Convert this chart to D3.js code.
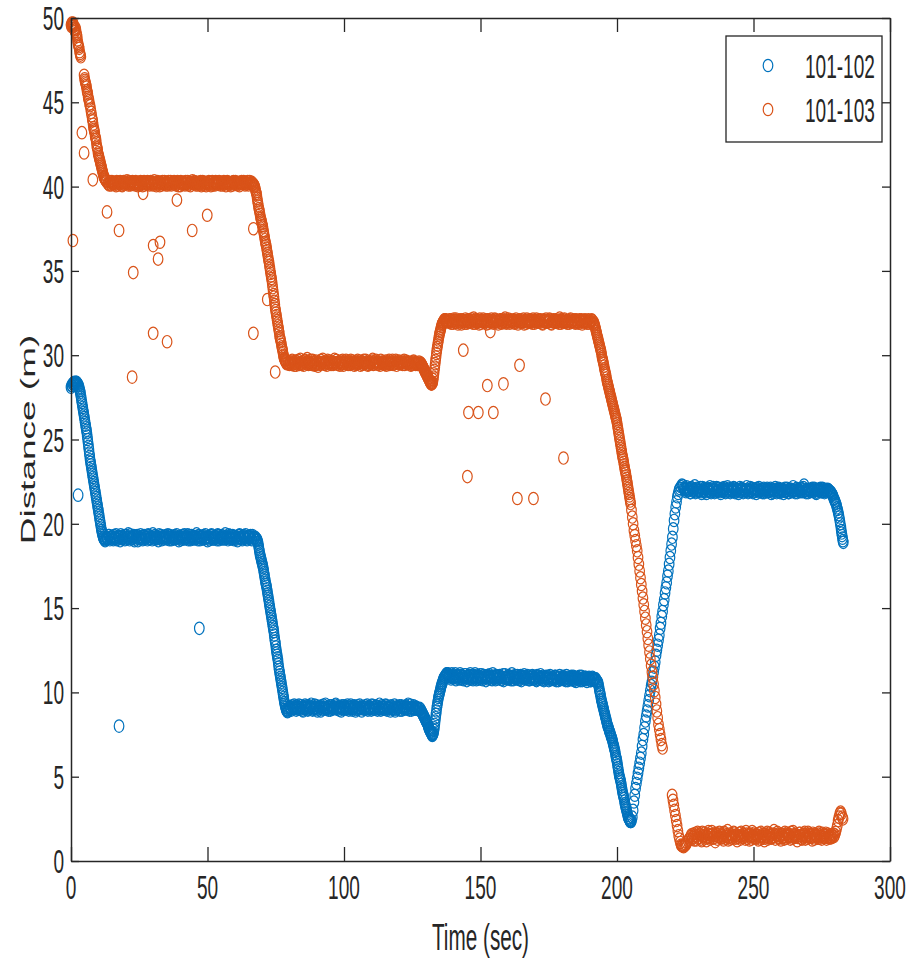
<!DOCTYPE html>
<html>
<head>
<meta charset="utf-8">
<script src="https://cdn.jsdelivr.net/npm/d3@7"></script>
<style>
  html, body { margin: 0; padding: 0; background: #fff; }
  svg { display: block; }
  text { font-family: "Liberation Sans", Arial, sans-serif; fill: #262626; }
</style>
</head>
<body>
<svg id="chart" width="908" height="962"></svg>
<script>
// Axis ticks
const xTicks = [0, 50, 100, 150, 200, 250, 300];
const yTicks = [0, 5, 10, 15, 20, 25, 30, 35, 40, 45, 50];
const seriesNames = ["101-102", "101-103"];
const seriesColors = ["#0072BD", "#D95319"];

// Node pair 101-102: [time (s), distance (m)]
const dist102 = [
  [0,28.1],[0.4,28.2],[0.8,28.3],[1.2,28.4],[1.6,28.3],[2.0,28.4],[2.4,28.3],[2.8,28.2],[3.1,28.0],[3.4,27.8],[3.7,27.5],[4.0,27.2],[4.3,26.9],[4.6,26.6],[4.9,26.3],[5.2,26.0],[5.5,25.7],[5.8,25.4],[6.1,25.0],[6.4,24.6],[6.7,24.2],[7.0,23.8],[7.3,23.5],[7.6,23.2],[7.9,22.9],[8.2,22.6],[8.5,22.3],[8.8,22.0],[9.1,21.7],[9.4,21.4],[9.7,21.1],[10.0,20.8],[10.3,20.5],[10.6,20.2],[10.9,19.9],[11.2,19.6],[11.5,19.4],[11.8,19.2],[12.1,19.1],[12.5,19.0],
  [13,19.2],[13.5,19.1],[14,19.3],[14.5,19.15],[15,19.25],[15.5,19.05],[16,19.2],[16.5,19.35],[17,19.1],[17.5,19.2],[18,19.0],[18.5,19.25],[19,19.15],[19.5,19.3],[20,19.1],[20.5,19.2],[21,19.4],[21.5,19.05],[22,19.2],[22.5,19.15],[23,19.3],[23.5,19.1],[24,19.25],[24.5,19.0],[25,19.2],[25.5,19.35],[26,19.15],[26.5,19.1],[27,19.25],[27.5,19.2],[28,19.05],[28.5,19.3],[29,19.15],[29.5,19.2],[30,19.4],[30.5,19.1],[31,19.2],[31.5,19.25],[32,19.0],[32.5,19.15],[33,19.3],[33.5,19.2],[34,19.1],[34.5,19.25],[35,19.15],[35.5,19.35],[36,19.05],[36.5,19.2],[37,19.25],[37.5,19.1],[38,19.3],[38.5,19.15],[39,19.2],[39.5,19.0],[40,19.25],[40.5,19.2],[41,19.1],[41.5,19.35],[42,19.15],[42.5,19.2],[43,19.05],[43.5,19.3],[44,19.2],[44.5,19.1],[45,19.25],[45.5,19.15],[46,19.4],[46.5,19.05],[47,19.2],[47.5,19.25],[48,19.1],[48.5,19.3],[49,19.15],[49.5,19.2],[50,19.0],[50.5,19.25],[51,19.15],[51.5,19.35],[52,19.1],[52.5,19.2],[53,19.25],[53.5,19.05],[54,19.3],[54.5,19.15],[55,19.2],[55.5,19.1],[56,19.25],[56.5,19.4],[57,19.15],[57.5,19.05],[58,19.2],[58.5,19.3],[59,19.1],[59.5,19.25],[60,19.15],[60.5,19.2],[61,19.0],[61.5,19.3],[62,19.2],[62.5,19.1],[63,19.25],[63.5,19.15],[64,19.35],[64.5,19.05],[65,19.2],[65.5,19.25],[66,19.1],[66.5,19.3],[67,19.15],[67.5,19.2],
  [68.0,19.1],[68.3,19.0],[68.6,18.8],[68.9,18.5],[69.2,18.2],[69.5,18.0],[69.8,17.8],[70.1,17.6],[70.4,17.4],[70.7,17.1],[71.0,16.8],[71.3,16.5],[71.6,16.3],[71.9,16.0],[72.2,15.7],[72.5,15.4],[72.8,15.1],[73.1,14.8],[73.4,14.5],[73.7,14.2],[74.0,13.9],[74.3,13.6],[74.6,13.2],[74.9,12.9],[75.2,12.5],[75.5,12.2],[75.8,11.9],[76.1,11.5],[76.4,11.2],[76.7,10.9],[77.0,10.6],[77.3,10.3],[77.6,10.0],[77.9,9.7],[78.2,9.4],[78.5,9.2],[78.8,9.0],[79.1,8.9],[79.5,8.9],
  [80,9.1],[80.5,9.0],[81,9.2],[81.5,9.05],[82,9.15],[82.5,8.95],[83,9.1],[83.5,9.25],[84,9.0],[84.5,9.1],[85,8.9],[85.5,9.15],[86,9.05],[86.5,9.2],[87,9.0],[87.5,9.1],[88,9.3],[88.5,8.95],[89,9.1],[89.5,9.05],[90,9.2],[90.5,9.0],[91,9.15],[91.5,8.9],[92,9.1],[92.5,9.25],[93,9.05],[93.5,9.0],[94,9.15],[94.5,9.1],[95,8.95],[95.5,9.2],[96,9.05],[96.5,9.1],[97,9.3],[97.5,9.0],[98,9.1],[98.5,9.15],[99,8.9],[99.5,9.05],[100,9.2],[100.5,9.1],[101,9.0],[101.5,9.15],[102,9.05],[102.5,9.25],[103,8.95],[103.5,9.1],[104,9.15],[104.5,9.0],[105,9.2],[105.5,9.05],[106,9.1],[106.5,8.9],[107,9.15],[107.5,9.1],[108,9.0],[108.5,9.25],[109,9.05],[109.5,9.1],[110,8.95],[110.5,9.2],[111,9.1],[111.5,9.0],[112,9.15],[112.5,9.05],[113,9.3],[113.5,8.95],[114,9.1],[114.5,9.15],[115,9.0],[115.5,9.2],[116,9.05],[116.5,9.1],[117,8.9],[117.5,9.15],[118,9.05],[118.5,9.25],[119,9.0],[119.5,9.1],[120,9.15],[120.5,8.95],[121,9.2],[121.5,9.1],[122,9.0],[122.5,9.15],[123,9.05],[123.5,9.3],[124,8.95],[124.5,9.1],[125,9.05],[125.5,9.2],[126,9.0],[126.5,9.1],[127,9.05],[127.5,8.95],[128,9.0],
  [128.3,8.9],[128.6,8.8],[128.9,8.7],[129.2,8.6],[129.5,8.5],[129.8,8.4],[130.1,8.3],[130.4,8.2],[130.7,8.1],[131.0,7.9],[131.3,7.8],[131.6,7.7],[131.9,7.6],[132.2,7.5],[132.5,7.5],[132.8,7.6],[133.1,7.9],[133.4,8.3],[133.7,8.7],[134.0,9.1],[134.3,9.4],[134.6,9.7],[134.9,9.9],[135.2,10.1],[135.5,10.3],[135.8,10.5],[136.1,10.6],[136.4,10.8],[136.8,10.9],[137.2,11.0],[137.6,11.1],[138.0,11.1],
  [138.5,11.05],[139,10.9],[139.5,11.1],[140,10.85],[140.5,10.95],[141,10.75],[141.5,11.0],[142,10.9],[142.5,11.1],[143,10.8],[143.5,10.95],[144,10.85],[144.5,11.05],[145,10.7],[145.5,10.9],[146,11.0],[146.5,10.8],[147,10.95],[147.5,10.85],[148,11.1],[148.5,10.75],[149,10.9],[149.5,10.95],[150,10.8],[150.5,11.05],[151,10.85],[151.5,10.9],[152,10.7],[152.5,11.0],[153,10.85],[153.5,10.95],[154,10.8],[154.5,11.1],[155,10.9],[155.5,10.75],[156,10.95],[156.5,10.85],[157,11.0],[157.5,10.8],[158,10.9],[158.5,10.7],[159,11.05],[159.5,10.85],[160,10.95],[160.5,10.8],[161,10.9],[161.5,11.1],[162,10.75],[162.5,10.9],[163,10.85],[163.5,11.0],[164,10.8],[164.5,10.95],[165,10.7],[165.5,10.9],[166,11.05],[166.5,10.85],[167,10.8],[167.5,10.95],[168,10.75],[168.5,10.9],[169,11.0],[169.5,10.8],[170,10.85],[170.5,10.7],[171,10.95],[171.5,10.85],[172,11.05],[172.5,10.75],[173,10.9],[173.5,10.8],[174,10.95],[174.5,10.85],[175,10.7],[175.5,11.0],[176,10.8],[176.5,10.9],[177,10.75],[177.5,10.95],[178,10.85],[178.5,10.7],[179,11.0],[179.5,10.8],[180,10.9],[180.5,10.75],[181,10.85],[181.5,11.0],[182,10.7],[182.5,10.85],[183,10.9],[183.5,10.75],[184,10.95],[184.5,10.8],[185,10.65],[185.5,10.9],[186,10.85],[186.5,10.7],[187,10.95],[187.5,10.8],[188,10.75],[188.5,10.9],[189,10.65],[189.5,10.85],[190,10.8],[190.5,10.7],[191,10.9],[191.5,10.75],[192,10.8],[192.5,10.7],
  [193.0,10.6],[193.3,10.4],[193.6,10.1],[193.9,9.9],[194.2,9.6],[194.5,9.4],[194.8,9.2],[195.1,9.0],[195.4,8.8],[195.7,8.6],[196.0,8.4],[196.3,8.2],[196.6,8.0],[196.9,7.9],[197.2,7.7],[197.5,7.6],[197.8,7.4],[198.1,7.3],[198.4,7.1],[198.7,6.9],[199.0,6.7],[199.3,6.5],[199.6,6.2],[199.9,6.0],[200.2,5.7],[200.5,5.4],[200.8,5.1],[201.1,4.9],[201.4,4.7],[201.7,4.4],[202.0,4.1],[202.3,3.9],[202.6,3.7],[202.9,3.4],[203.2,3.2],[203.5,3.0],[203.8,2.8],[204.1,2.6],[204.4,2.5],[204.7,2.4],[205.0,2.35],
  [205.3,2.4],[205.6,2.6],[205.9,3.0],[206.2,3.5],[206.5,3.9],[206.8,4.3],[207.1,4.6],[207.4,4.9],[207.7,5.2],[208.0,5.5],[208.3,5.8],[208.6,6.1],[208.9,6.4],[209.2,6.8],[209.5,7.2],[209.8,7.5],[210.1,7.9],[210.4,8.3],[210.7,8.6],[211.0,8.9],[211.3,9.2],[211.6,9.5],[211.9,9.8],[212.2,10.1],[212.5,10.4],[212.8,10.6],[213.1,10.9],[213.4,11.2],[213.7,11.5],[214.0,11.8],[214.3,12.2],[214.6,12.5],[214.9,12.8],[215.2,13.1],[215.5,13.4],[215.8,13.8],[216.1,14.1],[216.4,14.5],[216.7,14.8],[217.0,15.2],[217.3,15.5],[217.6,15.9],[217.9,16.2],[218.2,16.5],[218.5,16.9],[218.8,17.2],[219.1,17.6],[219.4,18.0],[219.7,18.4],[220.0,18.8],[220.3,19.2],[220.6,19.7],[220.9,20.2],[221.2,20.6],[221.5,21.0],[221.8,21.3],[222.1,21.6],[222.4,21.8],[222.7,22.0],[223.0,22.1],[223.4,22.2],[223.8,22.3],[224.2,22.25],
  [224.5,22.1],[225,22.0],[225.5,22.2],[226,21.95],[226.5,22.05],[227,21.85],[227.5,22.1],[228,22.0],[228.5,22.25],[229,21.9],[229.5,22.05],[230,21.95],[230.5,22.15],[231,21.8],[231.5,22.0],[232,22.1],[232.5,21.9],[233,22.05],[233.5,21.95],[234,22.2],[234.5,21.85],[235,22.0],[235.5,22.05],[236,21.9],[236.5,22.15],[237,21.95],[237.5,22.0],[238,21.8],[238.5,22.1],[239,21.95],[239.5,22.05],[240,21.9],[240.5,22.2],[241,22.0],[241.5,21.85],[242,22.05],[242.5,21.95],[243,22.1],[243.5,21.9],[244,22.0],[244.5,21.8],[245,22.15],[245.5,21.95],[246,22.05],[246.5,21.9],[247,22.0],[247.5,22.2],[248,21.85],[248.5,22.0],[249,21.95],[249.5,22.1],[250,21.9],[250.5,22.05],[251,21.8],[251.5,22.0],[252,22.15],[252.5,21.95],[253,21.9],[253.5,22.05],[254,21.85],[254.5,22.0],[255,22.1],[255.5,21.9],[256,21.95],[256.5,21.8],[257,22.05],[257.5,21.95],[258,22.15],[258.5,21.85],[259,22.0],[259.5,21.9],[260,22.05],[260.5,21.95],[261,21.8],[261.5,22.1],[262,21.95],[262.5,22.0],[263,21.85],[263.5,22.05],[264,21.9],[264.5,22.2],[265,21.95],[265.5,22.0],[266,21.85],[266.5,22.05],[267,21.95],[267.5,22.1],[268,21.9],[268.5,22.3],[269,21.95],[269.5,22.0],[270,21.85],[270.5,22.05],[271,21.95],[271.5,22.1],[272,21.9],[272.5,22.0],[273,21.8],[273.5,22.05],[274,21.95],[274.5,22.1],[275,21.9],[275.5,22.0],[276,21.85],[276.5,22.05],[277,21.95],[277.5,22.0],[278,21.9],
  [278.4,21.85],[278.8,21.75],[279.2,21.6],[279.6,21.45],[280.0,21.3],[280.4,21.1],[280.8,20.85],[281.2,20.55],[281.6,20.2],[282.0,19.8],[282.3,19.45],[282.6,19.15],[282.9,18.9]
];
// Intermediate samples of the 101-102 track
const dist102Extra = [
  [0.2,28.2],[0.6,28.3],[1.0,28.35],[1.4,28.3],[1.8,28.4],[2.2,28.35],[2.6,28.25],[2.95,28.1],[3.25,27.9],[3.55,27.65],[3.85,27.35],[4.15,27.05],[4.45,26.75],[4.75,26.45],[5.05,26.15],[5.35,25.85],[5.65,25.55],[5.95,25.2],[6.25,24.8],[6.55,24.4],[6.85,24.0],[7.15,23.65],[7.45,23.35],[7.75,23.05],[8.05,22.75],[8.35,22.45],[8.65,22.15],[8.95,21.85],[9.25,21.55],[9.55,21.25],[9.85,20.95],[10.15,20.65],[10.45,20.35],[10.75,20.05],[11.05,19.75],[11.35,19.5],[11.65,19.3],[11.95,19.15],[12.3,19.05],[12.75,19.1],
  [13.25,19.15],[13.75,19.3],[14.25,19.05],[14.75,19.2],[15.25,19.1],[15.75,19.3],[16.25,19.15],[16.75,19.05],[17.25,19.25],[17.75,19.15],[18.25,19.35],[18.75,19.1],[19.25,19.2],[19.75,19.05],[20.25,19.3],[20.75,19.15],[21.25,19.2],[21.75,19.35],[22.25,19.1],[22.75,19.25],[23.25,19.0],[23.75,19.2],[24.25,19.3],[24.75,19.15],[25.25,19.1],[25.75,19.25],[26.25,19.05],[26.75,19.3],[27.25,19.15],[27.75,19.2],[28.25,19.35],[28.75,19.1],[29.25,19.25],[29.75,19.05],[30.25,19.2],[30.75,19.3],[31.25,19.1],[31.75,19.15],[32.25,19.35],[32.75,19.2],[33.25,19.05],[33.75,19.25],[34.25,19.15],[34.75,19.3],[35.25,19.1],[35.75,19.2],[36.25,19.3],[36.75,19.05],[37.25,19.15],[37.75,19.25],[38.25,19.1],[38.75,19.35],[39.25,19.2],[39.75,19.15],[40.25,19.05],[40.75,19.3],[41.25,19.2],[41.75,19.1],[42.25,19.25],[42.75,19.35],[43.25,19.15],[43.75,19.05],[44.25,19.3],[44.75,19.2],[45.25,19.1],[45.75,19.25],[46.25,19.15],[46.75,19.3],[47.25,19.05],[47.75,19.2],[48.25,19.25],[48.75,19.1],[49.25,19.35],[49.75,19.15],[50.25,19.2],[50.75,19.05],[51.25,19.3],[51.75,19.2],[52.25,19.1],[52.75,19.25],[53.25,19.15],[53.75,19.35],[54.25,19.05],[54.75,19.2],[55.25,19.3],[55.75,19.15],[56.25,19.1],[56.75,19.25],[57.25,19.2],[57.75,19.35],[58.25,19.1],[58.75,19.15],[59.25,19.3],[59.75,19.05],[60.25,19.25],[60.75,19.1],[61.25,19.2],[61.75,19.35],[62.25,19.15],[62.75,19.05],[63.25,19.3],[63.75,19.2],[64.25,19.1],[64.75,19.25],[65.25,19.15],[65.75,19.3],[66.25,19.05],[66.75,19.2],[67.25,19.15],[67.75,19.1],
  [68.15,19.05],[68.45,18.9],[68.75,18.65],[69.05,18.35],[69.35,18.1],[69.65,17.9],[69.95,17.7],[70.25,17.5],[70.55,17.25],[70.85,16.95],[71.15,16.65],[71.45,16.4],[71.75,16.15],[72.05,15.85],[72.35,15.55],[72.65,15.25],[72.95,14.95],[73.25,14.65],[73.55,14.35],[73.85,14.05],[74.15,13.75],[74.45,13.4],[74.75,13.05],[75.05,12.7],[75.35,12.35],[75.65,12.05],[75.95,11.7],[76.25,11.35],[76.55,11.05],[76.85,10.75],[77.15,10.45],[77.45,10.15],[77.75,9.85],[78.05,9.55],[78.35,9.3],[78.65,9.1],[78.95,8.95],[79.3,8.85],[79.75,9.0],
  [80.25,9.15],[80.75,8.95],[81.25,9.1],[81.75,9.25],[82.25,9.05],[82.75,9.2],[83.25,9.0],[83.75,9.1],[84.25,9.2],[84.75,8.95],[85.25,9.05],[85.75,9.25],[86.25,9.1],[86.75,8.95],[87.25,9.2],[87.75,9.05],[88.25,9.15],[88.75,9.0],[89.25,9.25],[89.75,9.1],[90.25,8.9],[90.75,9.15],[91.25,9.05],[91.75,9.2],[92.25,9.0],[92.75,9.1],[93.25,9.3],[93.75,9.05],[94.25,8.95],[94.75,9.2],[95.25,9.1],[95.75,9.0],[96.25,9.15],[96.75,9.25],[97.25,9.05],[97.75,9.15],[98.25,8.95],[98.75,9.1],[99.25,9.2],[99.75,9.0],[100.25,9.15],[100.75,9.05],[101.25,9.25],[101.75,8.95],[102.25,9.1],[102.75,9.15],[103.25,9.05],[103.75,9.2],[104.25,8.9],[104.75,9.1],[105.25,9.0],[105.75,9.25],[106.25,9.05],[106.75,9.15],[107.25,9.0],[107.75,9.2],[108.25,9.1],[108.75,8.95],[109.25,9.15],[109.75,9.05],[110.25,9.25],[110.75,9.0],[111.25,9.1],[111.75,9.2],[112.25,8.95],[112.75,9.15],[113.25,9.05],[113.75,9.2],[114.25,9.0],[114.75,9.1],[115.25,9.25],[115.75,8.95],[116.25,9.15],[116.75,9.05],[117.25,9.2],[117.75,9.0],[118.25,9.1],[118.75,8.9],[119.25,9.15],[119.75,9.05],[120.25,9.2],[120.75,9.1],[121.25,8.95],[121.75,9.15],[122.25,9.05],[122.75,9.2],[123.25,9.0],[123.75,9.1],[124.25,9.25],[124.75,8.95],[125.25,9.1],[125.75,9.0],[126.25,9.15],[126.75,9.05],[127.25,9.0],[127.75,9.05],
  [128.45,8.85],[128.75,8.75],[129.05,8.65],[129.35,8.55],[129.65,8.45],[129.95,8.35],[130.25,8.25],[130.55,8.15],[130.85,8.0],[131.15,7.85],[131.45,7.75],[131.75,7.65],[132.05,7.55],[132.35,7.45],[132.65,7.55],[132.95,7.75],[133.25,8.1],[133.55,8.5],[133.85,8.9],[134.15,9.25],[134.45,9.55],[134.75,9.8],[135.05,10.0],[135.35,10.2],[135.65,10.4],[135.95,10.55],[136.25,10.7],[136.6,10.85],[137.0,10.95],[137.4,11.05],[137.8,11.1],[138.25,11.0],
  [138.75,10.95],[139.25,10.8],[139.75,11.0],[140.25,10.9],[140.75,11.1],[141.25,10.85],[141.75,10.95],[142.25,10.8],[142.75,11.0],[143.25,10.9],[143.75,10.75],[144.25,11.05],[144.75,10.85],[145.25,10.95],[145.75,10.8],[146.25,11.1],[146.75,10.9],[147.25,10.75],[147.75,11.0],[148.25,10.85],[148.75,10.95],[149.25,10.8],[149.75,11.05],[150.25,10.9],[150.75,10.75],[151.25,11.0],[151.75,10.85],[152.25,10.95],[152.75,10.8],[153.25,11.05],[153.75,10.9],[154.25,10.75],[154.75,10.95],[155.25,10.85],[155.75,11.0],[156.25,10.8],[156.75,10.95],[157.25,10.9],[157.75,10.75],[158.25,11.05],[158.75,10.85],[159.25,10.9],[159.75,10.8],[160.25,11.0],[160.75,10.85],[161.25,10.75],[161.75,10.95],[162.25,10.85],[162.75,11.0],[163.25,10.8],[163.75,10.9],[164.25,10.75],[164.75,11.0],[165.25,10.85],[165.75,10.95],[166.25,10.8],[166.75,10.9],[167.25,11.0],[167.75,10.75],[168.25,10.85],[168.75,10.95],[169.25,10.8],[169.75,10.9],[170.25,10.75],[170.75,11.0],[171.25,10.8],[171.75,10.9],[172.25,10.85],[172.75,10.95],[173.25,10.7],[173.75,10.9],[174.25,10.8],[174.75,10.95],[175.25,10.85],[175.75,10.75],[176.25,10.9],[176.75,10.8],[177.25,10.95],[177.75,10.7],[178.25,10.85],[178.75,10.9],[179.25,10.75],[179.75,10.85],[180.25,10.95],[180.75,10.8],[181.25,10.7],[181.75,10.9],[182.25,10.8],[182.75,10.75],[183.25,10.95],[183.75,10.85],[184.25,10.7],[184.75,10.9],[185.25,10.8],[185.75,10.75],[186.25,10.95],[186.75,10.8],[187.25,10.7],[187.75,10.85],[188.25,10.9],[188.75,10.75],[189.25,10.8],[189.75,10.9],[190.25,10.7],[190.75,10.85],[191.25,10.8],[191.75,10.7],[192.25,10.8],[192.75,10.65],
  [193.15,10.5],[193.45,10.25],[193.75,10.0],[194.05,9.75],[194.35,9.5],[194.65,9.3],[194.95,9.1],[195.25,8.9],[195.55,8.7],[195.85,8.5],[196.15,8.3],[196.45,8.1],[196.75,7.95],[197.05,7.8],[197.35,7.65],[197.65,7.5],[197.95,7.35],[198.25,7.2],[198.55,7.0],[198.85,6.8],[199.15,6.6],[199.45,6.35],[199.75,6.1],[200.05,5.85],[200.35,5.55],[200.65,5.25],[200.95,5.0],[201.25,4.8],[201.55,4.55],[201.85,4.25],[202.15,4.0],[202.45,3.8],[202.75,3.55],[203.05,3.3],[203.35,3.1],[203.65,2.9],[203.95,2.7],[204.25,2.55],[204.55,2.45],[204.85,2.35],[205.15,2.35],
  [224.75,22.05],[225.25,21.9],[225.75,22.1],[226.25,22.0],[226.75,21.85],[227.25,22.15],[227.75,21.95],[228.25,22.05],[228.75,21.85],[229.25,22.1],[229.75,21.95],[230.25,22.0],[230.75,21.9],[231.25,22.15],[231.75,21.95],[232.25,22.05],[232.75,21.8],[233.25,22.1],[233.75,22.0],[234.25,21.9],[234.75,22.05],[235.25,22.15],[235.75,21.85],[236.25,22.0],[236.75,21.95],[237.25,22.1],[237.75,21.9],[238.25,22.05],[238.75,21.95],[239.25,22.15],[239.75,21.85],[240.25,22.0],[240.75,22.1],[241.25,21.9],[241.75,22.05],[242.25,21.95],[242.75,22.15],[243.25,21.85],[243.75,22.05],[244.25,22.0],[244.75,21.9],[245.25,22.05],[245.75,22.1],[246.25,21.85],[246.75,22.0],[247.25,21.95],[247.75,22.05],[248.25,21.9],[248.75,22.15],[249.25,22.0],[249.75,21.85],[250.25,22.05],[250.75,21.95],[251.25,22.1],[251.75,21.9],[252.25,22.0],[252.75,22.05],[253.25,21.85],[253.75,22.1],[254.25,21.95],[254.75,22.0],[255.25,21.9],[255.75,22.05],[256.25,22.1],[256.75,21.95],[257.25,21.85],[257.75,22.0],[258.25,22.05],[258.75,21.95],[259.25,22.1],[259.75,21.85],[260.25,22.0],[260.75,22.05],[261.25,21.95],[261.75,21.9],[262.25,22.1],[262.75,21.85],[263.25,22.0],[263.75,22.05],[264.25,21.95],[264.75,22.0],[265.25,21.85],[265.75,22.1],[266.25,21.95],[266.75,22.0],[267.25,21.9],[267.75,22.05],[268.25,22.15],[268.75,21.95],[269.25,21.85],[269.75,22.05],[270.25,22.0],[270.75,21.9],[271.25,22.05],[271.75,21.95],[272.25,22.1],[272.75,21.85],[273.25,22.0],[273.75,21.95],[274.25,22.05],[274.75,21.9],[275.25,22.1],[275.75,21.95],[276.25,22.0],[276.75,21.9],[277.25,22.05],[277.75,21.95],
  [278.2,21.9],[278.6,21.8],[279.0,21.7],[279.4,21.5],[279.8,21.35],[280.2,21.2],[280.6,20.95],[281.0,20.7],[281.4,20.4],[281.8,20.0],[282.15,19.6],[282.45,19.3],[282.75,19.0]
];
// Isolated 101-102 readings away from the track
const stray102 = [[2.6,21.7],[17.6,8.0],[47.0,13.8]];

// Node pair 101-103: [time (s), distance (m)]
const dist103 = [
  [0,49.6],[0.3,49.7],[0.6,49.5],[0.9,49.6],[1.2,49.4],[1.5,49.2],[1.8,49.3],[2.1,49.0],[2.4,48.7],[2.7,48.4],[3.0,48.2],[3.3,47.9],[3.6,47.7],[4.8,46.6],[5.1,46.3],[5.4,46.1],[5.7,45.9],[6.0,45.6],[6.3,45.3],[6.6,45.1],[7.0,44.8],[7.4,44.4],[7.8,44.0],[8.1,43.7],[8.4,43.4],[8.7,43.2],[9.0,42.9],[9.3,42.6],[9.6,42.3],[9.9,42.0],[10.2,41.8],[10.5,41.6],[10.8,41.4],[11.1,41.2],[11.4,41.0],[11.7,40.8],[12.0,40.6],[12.3,40.5],[12.6,40.4],[13.0,40.3],
  [13.5,40.2],[14,40.1],[14.5,40.25],[15,40.3],[15.5,40.15],[16,40.2],[16.5,40.05],[17,40.25],[17.5,40.2],[18,40.3],[18.5,40.1],[19,40.15],[19.5,40.25],[20,40.2],[20.5,40.35],[21,40.1],[21.5,40.2],[22,40.15],[22.5,40.3],[23,40.25],[23.5,40.1],[24,40.2],[24.5,40.05],[25,40.15],[25.5,40.3],[26,40.2],[26.5,40.25],[27,40.1],[27.5,40.2],[28,40.3],[28.5,40.15],[29,40.25],[29.5,40.2],[30,40.1],[30.5,40.35],[31,40.2],[31.5,40.15],[32,40.25],[32.5,40.05],[33,40.2],[33.5,40.3],[34,40.15],[34.5,40.2],[35,40.25],[35.5,40.1],[36,40.2],[36.5,40.3],[37,40.2],[37.5,40.15],[38,40.25],[38.5,40.1],[39,40.3],[39.5,40.2],[40,40.05],[40.5,40.25],[41,40.2],[41.5,40.15],[42,40.3],[42.5,40.2],[43,40.1],[43.5,40.25],[44,40.2],[44.5,40.35],[45,40.15],[45.5,40.2],[46,40.25],[46.5,40.1],[47,40.2],[47.5,40.3],[48,40.15],[48.5,40.25],[49,40.2],[49.5,40.05],[50,40.2],[50.5,40.3],[51,40.15],[51.5,40.25],[52,40.1],[52.5,40.2],[53,40.3],[53.5,40.2],[54,40.15],[54.5,40.25],[55,40.2],[55.5,40.1],[56,40.3],[56.5,40.2],[57,40.25],[57.5,40.15],[58,40.2],[58.5,40.05],[59,40.25],[59.5,40.3],[60,40.2],[60.5,40.15],[61,40.1],[61.5,40.25],[62,40.2],[62.5,40.3],[63,40.15],[63.5,40.2],[64,40.25],[64.5,40.2],[65,40.1],[65.5,40.3],[66,40.2],[66.5,40.15],
  [67.0,40.1],[67.3,40.0],[67.6,39.8],[67.9,39.6],[68.2,39.3],[68.5,39.0],[68.8,38.7],[69.1,38.5],[69.4,38.2],[69.7,38.0],[70.0,37.8],[70.3,37.6],[70.6,37.3],[70.9,37.0],[71.2,36.7],[71.5,36.5],[71.8,36.2],[72.1,35.9],[72.4,35.6],[72.7,35.3],[73.0,35.0],[73.3,34.7],[73.6,34.4],[73.9,34.0],[74.2,33.6],[74.5,33.2],[74.8,32.8],[75.1,32.5],[75.4,32.2],[75.7,31.9],[76.0,31.6],[76.3,31.3],[76.6,31.0],[76.9,30.8],[77.2,30.5],[77.5,30.3],[77.8,30.0],[78.1,29.8],[78.4,29.7],[78.7,29.6],[79.0,29.5],
  [79.5,29.55],[80,29.45],[80.5,29.6],[81,29.7],[81.5,29.5],[82,29.55],[82.5,29.4],[83,29.6],[83.5,29.55],[84,29.75],[84.5,29.45],[85,29.5],[85.5,29.65],[86,29.55],[86.5,29.8],[87,29.45],[87.5,29.55],[88,29.5],[88.5,29.7],[89,29.6],[89.5,29.45],[90,29.55],[90.5,29.35],[91,29.5],[91.5,29.7],[92,29.55],[92.5,29.6],[93,29.45],[93.5,29.55],[94,29.7],[94.5,29.5],[95,29.6],[95.5,29.55],[96,29.45],[96.5,29.75],[97,29.55],[97.5,29.5],[98,29.6],[98.5,29.4],[99,29.55],[99.5,29.7],[100,29.5],[100.5,29.55],[101,29.6],[101.5,29.45],[102,29.55],[102.5,29.7],[103,29.55],[103.5,29.5],[104,29.6],[104.5,29.45],[105,29.7],[105.5,29.55],[106,29.4],[106.5,29.6],[107,29.55],[107.5,29.5],[108,29.7],[108.5,29.55],[109,29.45],[109.5,29.6],[110,29.55],[110.5,29.75],[111,29.5],[111.5,29.55],[112,29.6],[112.5,29.45],[113,29.55],[113.5,29.7],[114,29.5],[114.5,29.6],[115,29.55],[115.5,29.4],[116,29.55],[116.5,29.7],[117,29.5],[117.5,29.6],[118,29.45],[118.5,29.55],[119,29.7],[119.5,29.55],[120,29.5],[120.5,29.6],[121,29.55],[121.5,29.45],[122,29.7],[122.5,29.55],[123,29.6],[123.5,29.5],[124,29.55],[124.5,29.4],[125,29.6],[125.5,29.65],[126,29.55],[126.5,29.5],[127,29.45],[127.5,29.6],[128,29.55],
  [128.3,29.5],[128.6,29.4],[128.9,29.3],[129.2,29.2],[129.5,29.1],[129.8,29.0],[130.1,28.9],[130.4,28.8],[130.7,28.7],[131.0,28.6],[131.3,28.5],[131.6,28.4],[131.9,28.3],[132.2,28.3],[132.5,28.4],[132.8,28.7],[133.1,29.1],[133.4,29.5],[133.7,29.9],[134.0,30.3],[134.3,30.6],[134.6,30.9],[134.9,31.2],[135.2,31.4],[135.5,31.6],[135.8,31.8],[136.1,31.9],[136.4,32.0],[136.8,32.1],[137.2,32.1],[137.6,32.0],
  [138,32.05],[138.5,31.95],[139,32.1],[139.5,32.0],[140,31.9],[140.5,32.05],[141,32.15],[141.5,31.95],[142,32.0],[142.5,32.1],[143,31.85],[143.5,32.05],[144,32.0],[144.5,32.15],[145,31.9],[145.5,32.0],[146,32.1],[146.5,31.95],[147,32.05],[147.5,32.2],[148,31.9],[148.5,32.0],[149,32.1],[149.5,31.85],[150,32.05],[150.5,32.0],[151,32.15],[151.5,31.95],[152,32.05],[152.5,32.1],[153,31.9],[153.5,32.0],[154,32.15],[154.5,32.05],[155,31.95],[155.5,32.1],[156,32.0],[156.5,31.85],[157,32.05],[157.5,32.1],[158,31.95],[158.5,32.0],[159,32.2],[159.5,31.9],[160,32.05],[160.5,32.0],[161,32.1],[161.5,31.95],[162,32.05],[162.5,31.9],[163,32.15],[163.5,32.0],[164,32.05],[164.5,31.95],[165,32.1],[165.5,32.0],[166,31.85],[166.5,32.05],[167,32.15],[167.5,31.95],[168,32.0],[168.5,32.1],[169,31.9],[169.5,32.05],[170,32.0],[170.5,32.15],[171,31.95],[171.5,32.05],[172,32.1],[172.5,31.9],[173,32.0],[173.5,32.05],[174,32.15],[174.5,31.95],[175,32.0],[175.5,32.1],[176,31.85],[176.5,32.05],[177,32.0],[177.5,32.1],[178,31.95],[178.5,32.05],[179,32.2],[179.5,31.9],[180,32.0],[180.5,32.1],[181,31.95],[181.5,32.05],[182,32.0],[182.5,31.9],[183,32.15],[183.5,32.0],[184,32.05],[184.5,31.95],[185,32.1],[185.5,32.0],[186,31.9],[186.5,32.05],[187,32.1],[187.5,31.95],[188,32.0],[188.5,32.05],[189,31.9],[189.5,32.1],[190,32.0],[190.5,31.95],[191,32.05],[191.5,31.95],
  [191.8,31.8],[192.1,31.6],[192.4,31.4],[192.7,31.2],[193.0,31.0],[193.3,30.8],[193.6,30.6],[193.9,30.4],[194.2,30.2],[194.5,29.9],[194.8,29.7],[195.1,29.5],[195.4,29.2],[195.7,29.0],[196.0,28.8],[196.3,28.5],[196.6,28.3],[196.9,28.1],[197.2,27.9],[197.5,27.7],[197.8,27.5],[198.1,27.3],[198.4,27.1],[198.7,26.9],[199.0,26.7],[199.3,26.5],[199.6,26.3],[199.9,26.1],[200.2,25.8],[200.5,25.5],[200.8,25.2],[201.1,24.9],[201.4,24.6],[201.7,24.3],[202.0,24.0],[202.3,23.8],[202.6,23.5],[202.9,23.2],[203.2,23.0],[203.5,22.7],[203.8,22.4],[204.1,22.1],[204.4,21.8],[204.7,21.5],[205.0,21.2],[205.3,20.8],[205.6,20.4],[205.9,20.0],[206.2,19.6],[206.5,19.3],[206.8,19.0],[207.1,18.7],[207.4,18.4],[207.7,18.0],[208.0,17.6],[208.3,17.2],[208.6,16.8],[208.9,16.4],[209.2,16.0],[209.5,15.6],[209.8,15.2],[210.1,14.8],[210.4,14.4],[210.7,14.0],[211.0,13.6],[211.3,13.2],[211.6,12.8],[211.9,12.4],[212.2,12.0],[212.5,11.6],[212.8,11.2],[213.1,10.9],[213.4,10.5],[213.7,10.1],[214.0,9.7],[214.3,9.3],[214.6,8.9],[214.9,8.5],[215.2,8.1],[215.5,7.8],[215.8,7.5],[216.1,7.2],[216.4,6.9],[216.7,6.7],
  [220.2,3.9],[220.5,3.6],[220.8,3.3],[221.1,3.0],[221.4,2.7],[221.7,2.4],[222.0,2.1],[222.3,1.8],[222.6,1.5],[222.9,1.3],[223.2,1.1],[223.5,0.95],[223.8,0.9],[224.1,0.9],[224.4,0.85],[224.7,0.9],[225.0,0.95],[225.3,1.0],[225.6,1.1],[226.0,1.2],[226.4,1.3],
  [227,1.45],[227.5,1.3],[228,1.6],[228.5,1.5],[229,1.25],[229.5,1.7],[230,1.4],[230.5,1.55],[231,1.2],[231.5,1.5],[232,1.65],[232.5,1.35],[233,1.45],[233.5,1.75],[234,1.3],[234.5,1.5],[235,1.6],[235.5,1.4],[236,1.15],[236.5,1.55],[237,1.45],[237.5,1.7],[238,1.35],[238.5,1.5],[239,1.25],[239.5,1.6],[240,1.45],[240.5,1.8],[241,1.4],[241.5,1.3],[242,1.55],[242.5,1.5],[243,1.65],[243.5,1.35],[244,1.2],[244.5,1.5],[245,1.45],[245.5,1.7],[246,1.4],[246.5,1.55],[247,1.3],[247.5,1.6],[248,1.5],[248.5,1.25],[249,1.45],[249.5,1.75],[250,1.4],[250.5,1.55],[251,1.35],[251.5,1.5],[252,1.65],[252.5,1.3],[253,1.45],[253.5,1.6],[254,1.2],[254.5,1.5],[255,1.7],[255.5,1.4],[256,1.55],[256.5,1.35],[257,1.45],[257.5,1.8],[258,1.3],[258.5,1.5],[259,1.6],[259.5,1.4],[260,1.25],[260.5,1.55],[261,1.45],[261.5,1.7],[262,1.35],[262.5,1.5],[263,1.6],[263.5,1.3],[264,1.45],[264.5,1.75],[265,1.4],[265.5,1.55],[266,1.2],[266.5,1.5],[267,1.65],[267.5,1.35],[268,1.45],[268.5,1.6],[269,1.3],[269.5,1.5],[270,1.7],[270.5,1.4],[271,1.55],[271.5,1.25],[272,1.45],[272.5,1.6],[273,1.5],[273.5,1.35],[274,1.7],[274.5,1.45],[275,1.3],[275.5,1.55],[276,1.5],[276.5,1.65],[277,1.4],[277.5,1.45],[278,1.35],[278.5,1.55],[279,1.5],[279.5,1.45],
  [279.8,1.55],[280.1,1.7],[280.4,1.9],[280.7,2.1],[281.0,2.4],[281.3,2.6],[281.6,2.8],[281.9,2.9],[282.2,2.8],[282.5,2.6],[282.8,2.5]
];
// Intermediate samples of the 101-103 track
const dist103Extra = [
  [0.15,49.5],[0.45,49.6],[0.75,49.7],[1.05,49.5],[1.35,49.3],[1.65,49.4],[1.95,49.1],[2.25,48.9],[2.55,48.5],[2.85,48.3],[3.15,48.0],[3.45,47.8],[5.0,46.4],[5.25,46.2],[5.55,46.0],[5.85,45.7],[6.15,45.5],[6.45,45.2],[6.8,44.9],[7.2,44.6],[7.6,44.2],[7.95,43.9],[8.25,43.5],[8.55,43.3],[8.85,43.0],[9.15,42.8],[9.45,42.4],[9.75,42.2],[10.05,41.9],[10.35,41.7],[10.65,41.5],[10.95,41.3],[11.25,41.1],[11.55,40.9],[11.85,40.7],[12.15,40.55],[12.45,40.45],[12.8,40.35],
  [13.75,40.15],[14.25,40.3],[14.75,40.1],[15.25,40.2],[15.75,40.25],[16.25,40.15],[16.75,40.3],[17.25,40.1],[17.75,40.25],[18.25,40.2],[18.75,40.05],[19.25,40.3],[19.75,40.15],[20.25,40.25],[20.75,40.2],[21.25,40.3],[21.75,40.1],[22.25,40.25],[22.75,40.15],[23.25,40.2],[23.75,40.3],[24.25,40.15],[24.75,40.25],[25.25,40.1],[25.75,40.2],[26.25,40.05],[26.75,40.3],[27.25,40.2],[27.75,40.15],[28.25,40.25],[28.75,40.1],[29.25,40.3],[29.75,40.15],[30.25,40.25],[30.75,40.2],[31.25,40.05],[31.75,40.3],[32.25,40.15],[32.75,40.25],[33.25,40.1],[33.75,40.2],[34.25,40.3],[34.75,40.1],[35.25,40.2],[35.75,40.3],[36.25,40.15],[36.75,40.1],[37.25,40.25],[37.75,40.3],[38.25,40.2],[38.75,40.15],[39.25,40.05],[39.75,40.25],[40.25,40.3],[40.75,40.15],[41.25,40.25],[41.75,40.1],[42.25,40.2],[42.75,40.3],[43.25,40.15],[43.75,40.05],[44.25,40.25],[44.75,40.2],[45.25,40.3],[45.75,40.1],[46.25,40.2],[46.75,40.25],[47.25,40.15],[47.75,40.05],[48.25,40.3],[48.75,40.1],[49.25,40.25],[49.75,40.2],[50.25,40.15],[50.75,40.25],[51.25,40.05],[51.75,40.3],[52.25,40.2],[52.75,40.1],[53.25,40.25],[53.75,40.15],[54.25,40.3],[54.75,40.1],[55.25,40.25],[55.75,40.2],[56.25,40.15],[56.75,40.05],[57.25,40.3],[57.75,40.25],[58.25,40.15],[58.75,40.2],[59.25,40.1],[59.75,40.25],[60.25,40.3],[60.75,40.2],[61.25,40.15],[61.75,40.05],[62.25,40.25],[62.75,40.2],[63.25,40.3],[63.75,40.1],[64.25,40.15],[64.75,40.3],[65.25,40.2],[65.75,40.15],[66.25,40.25],[66.75,40.15],
  [67.15,40.05],[67.45,39.9],[67.75,39.7],[68.05,39.5],[68.35,39.15],[68.65,38.85],[68.95,38.6],[69.25,38.35],[69.55,38.1],[69.85,37.9],[70.15,37.7],[70.45,37.4],[70.75,37.15],[71.05,36.85],[71.35,36.6],[71.65,36.35],[71.95,36.05],[72.25,35.75],[72.55,35.5],[72.85,35.15],[73.15,34.85],[73.45,34.55],[73.75,34.2],[74.05,33.8],[74.35,33.45],[74.65,33.0],[74.95,32.65],[75.25,32.35],[75.55,32.05],[75.85,31.75],[76.15,31.45],[76.45,31.1],[76.75,30.9],[77.05,30.65],[77.35,30.4],[77.65,30.15],[77.95,29.9],[78.25,29.75],[78.55,29.65],[78.85,29.55],
  [79.75,29.5],[80.25,29.6],[80.75,29.45],[81.25,29.6],[81.75,29.4],[82.25,29.65],[82.75,29.5],[83.25,29.7],[83.75,29.45],[84.25,29.55],[84.75,29.6],[85.25,29.4],[85.75,29.7],[86.25,29.5],[86.75,29.6],[87.25,29.55],[87.75,29.7],[88.25,29.45],[88.75,29.55],[89.25,29.4],[89.75,29.65],[90.25,29.5],[90.75,29.6],[91.25,29.45],[91.75,29.55],[92.25,29.75],[92.75,29.5],[93.25,29.6],[93.75,29.4],[94.25,29.55],[94.75,29.65],[95.25,29.45],[95.75,29.6],[96.25,29.5],[96.75,29.55],[97.25,29.7],[97.75,29.45],[98.25,29.55],[98.75,29.65],[99.25,29.5],[99.75,29.4],[100.25,29.6],[100.75,29.7],[101.25,29.5],[101.75,29.6],[102.25,29.45],[102.75,29.55],[103.25,29.65],[103.75,29.4],[104.25,29.55],[104.75,29.6],[105.25,29.5],[105.75,29.65],[106.25,29.55],[106.75,29.45],[107.25,29.7],[107.75,29.55],[108.25,29.6],[108.75,29.4],[109.25,29.55],[109.75,29.5],[110.25,29.65],[110.75,29.45],[111.25,29.6],[111.75,29.7],[112.25,29.5],[112.75,29.55],[113.25,29.4],[113.75,29.6],[114.25,29.55],[114.75,29.45],[115.25,29.65],[115.75,29.5],[116.25,29.6],[116.75,29.45],[117.25,29.55],[117.75,29.7],[118.25,29.5],[118.75,29.6],[119.25,29.4],[119.75,29.55],[120.25,29.65],[120.75,29.5],[121.25,29.6],[121.75,29.55],[122.25,29.45],[122.75,29.65],[123.25,29.5],[123.75,29.6],[124.25,29.55],[124.75,29.45],[125.25,29.5],[125.75,29.6],[126.25,29.45],[126.75,29.55],[127.25,29.5],[127.75,29.45],
  [128.45,29.45],[128.75,29.35],[129.05,29.25],[129.35,29.15],[129.65,29.05],[129.95,28.95],[130.25,28.85],[130.55,28.75],[130.85,28.65],[131.15,28.55],[131.45,28.45],[131.75,28.35],[132.05,28.3],[132.35,28.35],[132.65,28.55],[132.95,28.9],[133.25,29.3],[133.55,29.7],[133.85,30.1],[134.15,30.45],[134.45,30.75],[134.75,31.05],[135.05,31.3],[135.35,31.5],[135.65,31.7],[135.95,31.85],[136.25,31.95],[136.6,32.05],[137.0,32.1],[137.4,32.05],[137.8,32.0],
  [138.25,32.0],[138.75,32.1],[139.25,31.9],[139.75,32.05],[140.25,32.15],[140.75,31.95],[141.25,32.05],[141.75,31.85],[142.25,32.05],[142.75,31.95],[143.25,32.1],[143.75,32.0],[144.25,31.9],[144.75,32.05],[145.25,32.1],[145.75,31.95],[146.25,32.0],[146.75,32.15],[147.25,31.9],[147.75,32.05],[148.25,32.1],[148.75,31.95],[149.25,32.0],[149.75,32.15],[150.25,31.9],[150.75,32.05],[151.25,32.0],[151.75,32.1],[152.25,31.85],[152.75,32.05],[153.25,32.1],[153.75,31.95],[154.25,32.0],[154.75,31.9],[155.25,32.15],[155.75,32.0],[156.25,32.05],[156.75,31.95],[157.25,32.1],[157.75,31.9],[158.25,32.05],[158.75,32.1],[159.25,31.95],[159.75,32.0],[160.25,32.15],[160.75,31.9],[161.25,32.05],[161.75,32.0],[162.25,32.1],[162.75,31.95],[163.25,32.05],[163.75,31.85],[164.25,32.1],[164.75,32.0],[165.25,31.95],[165.75,32.15],[166.25,32.0],[166.75,31.9],[167.25,32.05],[167.75,32.1],[168.25,31.95],[168.75,32.0],[169.25,32.15],[169.75,31.9],[170.25,32.05],[170.75,32.0],[171.25,32.1],[171.75,31.95],[172.25,32.05],[172.75,31.85],[173.25,32.1],[173.75,32.0],[174.25,31.95],[174.75,32.05],[175.25,32.15],[175.75,31.9],[176.25,32.0],[176.75,32.1],[177.25,31.95],[177.75,32.05],[178.25,32.0],[178.75,31.9],[179.25,32.1],[179.75,32.05],[180.25,31.95],[180.75,32.15],[181.25,32.0],[181.75,31.9],[182.25,32.05],[182.75,32.1],[183.25,31.95],[183.75,32.0],[184.25,32.1],[184.75,31.9],[185.25,32.05],[185.75,31.95],[186.25,32.1],[186.75,32.0],[187.25,31.85],[187.75,32.05],[188.25,32.1],[188.75,31.95],[189.25,32.0],[189.75,31.9],[190.25,32.05],[190.75,32.1],[191.25,31.9],
  [191.65,31.85],[191.95,31.7],[192.25,31.5],[192.55,31.3],[192.85,31.1],[193.15,30.9],[193.45,30.7],[193.75,30.5],[194.05,30.3],[194.35,30.05],[194.65,29.8],[194.95,29.6],[195.25,29.35],[195.55,29.1],[195.85,28.9],[196.15,28.65],[196.45,28.4],[196.75,28.2],[197.05,28.0],[197.35,27.8],[197.65,27.6],[197.95,27.4],[198.25,27.2],[198.55,27.0],[198.85,26.8],[199.15,26.6],[199.45,26.4],[199.75,26.2],[200.05,25.95],[200.35,25.65],[200.65,25.35],[200.95,25.05],[201.25,24.75],[201.55,24.45],[201.85,24.15],[202.15,23.9],[202.45,23.65],[202.75,23.35],[203.05,23.1],[203.35,22.85],[203.65,22.55],[203.95,22.25],[204.25,21.95],[204.55,21.65],[204.85,21.35],
  [227.25,1.55],[227.75,1.4],[228.25,1.25],[228.75,1.65],[229.25,1.5],[229.75,1.35],[230.25,1.6],[230.75,1.3],[231.25,1.7],[231.75,1.45],[232.25,1.5],[232.75,1.2],[233.25,1.6],[233.75,1.4],[234.25,1.55],[234.75,1.75],[235.25,1.35],[235.75,1.5],[236.25,1.65],[236.75,1.3],[237.25,1.45],[237.75,1.6],[238.25,1.5],[238.75,1.4],[239.25,1.7],[239.75,1.35],[240.25,1.55],[240.75,1.25],[241.25,1.6],[241.75,1.45],[242.25,1.35],[242.75,1.7],[243.25,1.5],[243.75,1.55],[244.25,1.4],[244.75,1.65],[245.25,1.3],[245.75,1.5],[246.25,1.6],[246.75,1.45],[247.25,1.75],[247.75,1.35],[248.25,1.55],[248.75,1.6],[249.25,1.3],[249.75,1.5],[250.25,1.65],[250.75,1.4],[251.25,1.55],[251.75,1.25],[252.25,1.45],[252.75,1.7],[253.25,1.5],[253.75,1.35],[254.25,1.6],[254.75,1.45],[255.25,1.3],[255.75,1.65],[256.25,1.5],[256.75,1.4],[257.25,1.6],[257.75,1.45],[258.25,1.55],[258.75,1.7],[259.25,1.35],[259.75,1.5],[260.25,1.6],[260.75,1.4],[261.25,1.3],[261.75,1.55],[262.25,1.65],[262.75,1.45],[263.25,1.5],[263.75,1.7],[264.25,1.35],[264.75,1.5],[265.25,1.6],[265.75,1.45],[266.25,1.4],[266.75,1.65],[267.25,1.5],[267.75,1.3],[268.25,1.55],[268.75,1.7],[269.25,1.45],[269.75,1.35],[270.25,1.6],[270.75,1.5],[271.25,1.4],[271.75,1.65],[272.25,1.3],[272.75,1.55],[273.25,1.45],[273.75,1.6],[274.25,1.35],[274.75,1.5],[275.25,1.65],[275.75,1.4],[276.25,1.55],[276.75,1.3],[277.25,1.6],[277.75,1.5],[278.25,1.45],[278.75,1.4],[279.25,1.6]
];
// Isolated 101-103 readings away from the track
const stray103 = [
  [0.7,36.8],[4.0,43.2],[4.8,42.0],[8.0,40.4],[13.2,38.5],[17.6,37.4],[22.8,34.9],[22.4,28.7],[26.4,39.6],
  [30.1,36.5],[32.6,36.7],[31.9,35.7],[30.1,31.3],[35.2,30.8],[38.8,39.2],[44.4,37.4],[49.9,38.3],
  [66.8,37.5],[66.8,31.3],[71.9,33.3],[74.8,29.0],
  [143.7,30.3],[145.6,26.6],[145.2,22.8],[149.2,26.6],[152.5,28.2],[153.6,31.4],[154.7,26.6],[158.4,28.3],
  [164.3,29.4],[163.5,21.5],[169.4,21.5],[173.8,27.4],[180.4,23.9]
];

const svg = d3.select("#chart");
const W = 908, H = 962;
const plot = { left: 71, right: 890, top: 18, bottom: 861 };

const x = d3.scaleLinear().domain([0, 300]).range([plot.left, plot.right]);
const y = d3.scaleLinear().domain([0, 50]).range([plot.bottom, plot.top]);

svg.append("rect").attr("width", W).attr("height", H).attr("fill", "#fff");

// Glyphs are drawn narrow and tall
const SX = 0.56;
const tickFont = 34, labelFont = 37, legendFont = 34;
const ink = "#262626";

// Markers: open circles (slightly tall)
const RX = 4.8, RY = 6.2;
function drawSeries(points, color) {
  svg.append("g")
    .attr("fill", "none")
    .attr("stroke", color)
    .attr("stroke-width", 1.2)
    .selectAll("ellipse")
    .data(points)
    .join("ellipse")
    .attr("cx", d => x(d[0]))
    .attr("cy", d => y(d[1]))
    .attr("rx", RX)
    .attr("ry", RY);
}
const byTime = (a, b) => a[0] - b[0];
drawSeries(dist102.concat(dist102Extra).sort(byTime).concat(stray102), seriesColors[0]);
drawSeries(dist103.concat(dist103Extra).sort(byTime).concat(stray103), seriesColors[1]);

// Axes with inward ticks on all four sides
function styleAxis(g) {
  g.selectAll("path.domain").attr("stroke", ink).attr("stroke-width", 1.5);
  g.selectAll(".tick line").attr("stroke", ink).attr("stroke-width", 1.3);
  g.selectAll(".tick text").remove();
}
svg.append("g").attr("transform", `translate(0,${plot.bottom})`)
  .call(d3.axisBottom(x).tickValues(xTicks).tickSizeInner(-14).tickSizeOuter(0).tickFormat(""))
  .call(styleAxis);
svg.append("g").attr("transform", `translate(0,${plot.top})`)
  .call(d3.axisTop(x).tickValues(xTicks).tickSizeInner(-14).tickSizeOuter(0).tickFormat(""))
  .call(styleAxis);
svg.append("g").attr("transform", `translate(${plot.left},0)`)
  .call(d3.axisLeft(y).tickValues(yTicks).tickSizeInner(-8).tickSizeOuter(0).tickFormat(""))
  .call(styleAxis);
svg.append("g").attr("transform", `translate(${plot.right},0)`)
  .call(d3.axisRight(y).tickValues(yTicks).tickSizeInner(-8).tickSizeOuter(0).tickFormat(""))
  .call(styleAxis);

function narrowText(parent, px, py, str, anchor, size) {
  return parent.append("text")
    .attr("transform", `translate(${px},${py}) scale(${SX},1)`)
    .attr("text-anchor", anchor)
    .attr("font-size", size)
    .text(str);
}

// Tick labels
const labels = svg.append("g");
xTicks.forEach(v => narrowText(labels, x(v), 899, String(v), "middle", tickFont));
yTicks.forEach(v => narrowText(labels, 64, y(v) + 12, String(v), "end", tickFont));

// Axis titles
narrowText(labels, (plot.left + plot.right) / 2, 950, "Time (sec)", "middle", labelFont);
labels.append("text")
  .attr("transform", `translate(35,${(plot.top + plot.bottom) / 2}) rotate(-90) scale(1,${SX})`)
  .attr("text-anchor", "middle")
  .attr("font-size", labelFont)
  .text("Distance (m)");

// Legend
const legend = svg.append("g");
legend.append("rect")
  .attr("x", 726).attr("y", 36).attr("width", 156).attr("height", 106)
  .attr("fill", "#fff").attr("stroke", ink).attr("stroke-width", 1.3);
seriesNames.forEach((name, i) => {
  const cy = 65.5 + i * 44;
  legend.append("ellipse")
    .attr("cx", 768).attr("cy", cy).attr("rx", RX).attr("ry", RY)
    .attr("fill", "none").attr("stroke", seriesColors[i]).attr("stroke-width", 1.2);
  narrowText(legend, 805, cy + 12.5, name, "start", legendFont);
});
</script>
</body>
</html>
